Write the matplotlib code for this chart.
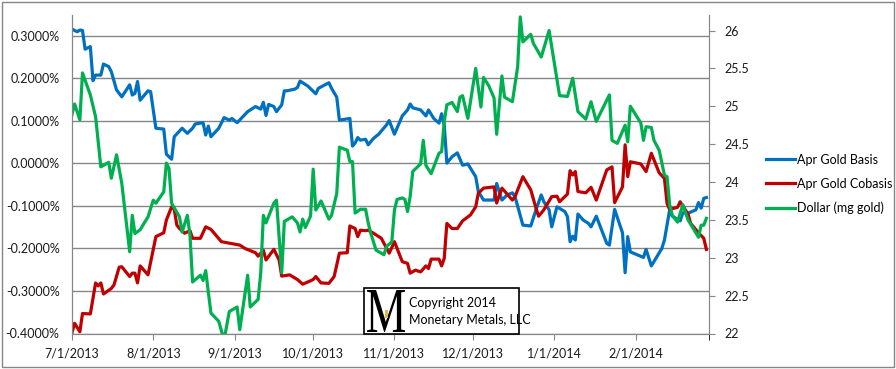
import matplotlib
matplotlib.use("Agg")
import matplotlib.pyplot as plt
from matplotlib.patches import Rectangle, PathPatch
from matplotlib.textpath import TextPath
from matplotlib.font_manager import FontProperties
from matplotlib.transforms import Affine2D
import pandas as pd

plt.rcParams["font.family"] = ["Lato", "DejaVu Sans"]

start = pd.Timestamp("2013-07-01")

# days since 7/1/2013, values in percent
basis_days = [0, 2, 3, 4, 5, 7, 8, 9, 11, 12, 14, 15, 17, 19, 22, 23, 24, 25, 26, 29,
              30, 32, 35, 36, 38, 39, 42, 44, 46, 47, 50, 51, 52, 53, 56, 58, 60, 61, 63, 67,
              70, 72, 73, 74, 75, 77, 78, 80, 81, 82, 85, 86, 87, 90, 93, 94, 98, 99, 101, 102,
              106, 107, 108, 109, 110, 112, 113, 115, 117, 120, 121, 123, 126, 128, 129, 130, 133, 135, 136, 138,
              140, 141, 142, 143, 145, 147, 149, 151, 154, 155, 157, 161, 162, 164, 166, 168, 169, 172, 175, 177,
              179, 180, 182, 183, 185, 188, 189, 190, 191, 192, 193, 195, 197, 198, 200, 204, 205, 207, 210, 211,
              212, 213, 218, 219, 221, 225, 226, 228, 229, 232, 233, 235, 238, 239, 240, 241, 242]
basis = [0.316, 0.310, 0.314, 0.313, 0.269, 0.275, 0.195, 0.208, 0.208, 0.234, 0.228, 0.216, 0.173, 0.157, 0.185, 0.161, 0.165, 0.193, 0.149, 0.171,
         0.169, 0.083, 0.081, 0.022, 0.010, 0.063, 0.083, 0.071, 0.083, 0.093, 0.096, 0.067, 0.088, 0.063, 0.083, 0.108, 0.102, 0.106, 0.096, 0.122,
         0.134, 0.128, 0.144, 0.113, 0.139, 0.134, 0.122, 0.138, 0.171, 0.171, 0.175, 0.179, 0.194, 0.182, 0.164, 0.177, 0.190, 0.177, 0.156, 0.102,
         0.106, 0.041, 0.048, 0.061, 0.055, 0.057, 0.044, 0.059, 0.069, 0.091, 0.101, 0.069, 0.112, 0.126, 0.140, 0.131, 0.126, 0.112, 0.126, 0.106,
         0.095, 0.117, 0.091, 0.001, 0.016, 0.025, -0.004, -0.001, -0.031, -0.066, -0.086, -0.086, -0.047, -0.086, -0.074, -0.069, -0.078, -0.145, -0.147, -0.109,
         -0.074, -0.090, -0.109, -0.149, -0.102, -0.113, -0.125, -0.184, -0.171, -0.180, -0.119, -0.133, -0.141, -0.149, -0.124, -0.188, -0.192, -0.108, -0.163, -0.257,
         -0.172, -0.208, -0.221, -0.202, -0.241, -0.200, -0.180, -0.109, -0.124, -0.135, -0.116, -0.117, -0.109, -0.092, -0.105, -0.082, -0.080]

cobasis_days = [0, 1, 3, 4, 7, 9, 10, 11, 12, 15, 16, 18, 19, 22, 23, 24, 25, 26, 29, 32,
                34, 35, 36, 38, 39, 40, 41, 43, 45, 46, 49, 51, 53, 57, 64, 66, 70, 71, 73, 74,
                77, 79, 80, 83, 86, 88, 91, 92, 93, 95, 98, 100, 102, 105, 106, 108, 109, 110, 112, 113,
                115, 118, 121, 123, 126, 128, 129, 131, 133, 135, 136, 137, 140, 141, 142, 143, 145, 147, 149, 152,
                154, 155, 157, 161, 162, 164, 168, 169, 172, 175, 177, 178, 180, 183, 185, 186, 189, 190, 191, 192,
                193, 196, 198, 200, 204, 206, 207, 210, 211, 212, 213, 217, 219, 221, 224, 226, 227, 228, 231, 232,
                235, 236, 239, 241, 242]
cobasis = [-0.398, -0.376, -0.396, -0.353, -0.354, -0.281, -0.288, -0.281, -0.307, -0.294, -0.286, -0.244, -0.243, -0.266, -0.258, -0.258, -0.281, -0.241, -0.262, -0.172,
           -0.166, -0.163, -0.133, -0.102, -0.108, -0.145, -0.153, -0.164, -0.158, -0.176, -0.176, -0.149, -0.155, -0.184, -0.192, -0.200, -0.210, -0.218, -0.204, -0.227,
           -0.202, -0.227, -0.265, -0.262, -0.273, -0.284, -0.276, -0.273, -0.266, -0.281, -0.282, -0.266, -0.211, -0.210, -0.147, -0.153, -0.172, -0.157, -0.158, -0.157,
           -0.164, -0.176, -0.211, -0.184, -0.231, -0.235, -0.258, -0.251, -0.255, -0.241, -0.247, -0.225, -0.225, -0.241, -0.223, -0.141, -0.153, -0.153, -0.135, -0.121,
           -0.102, -0.070, -0.058, -0.055, -0.093, -0.058, -0.086, -0.078, -0.031, -0.062, -0.105, -0.124, -0.109, -0.078, -0.077, -0.090, -0.072, -0.017, -0.027, -0.019,
           -0.066, -0.069, -0.056, -0.086, -0.015, -0.008, -0.092, -0.055, 0.044, -0.031, 0.004, -0.001, -0.019, 0.024, -0.022, -0.035, -0.094, -0.108, -0.103, -0.090,
           -0.119, -0.141, -0.163, -0.176, -0.202]

dollar_days = [0, 1, 3, 4, 7, 9, 11, 14, 15, 17, 19, 22, 23, 24, 26, 29, 31, 32, 35, 36,
               37, 38, 41, 42, 44, 45, 46, 49, 50, 51, 53, 56, 58, 60, 63, 64, 67, 68, 71, 72,
               73, 74, 77, 78, 80, 81, 84, 86, 87, 88, 89, 91, 92, 93, 95, 98, 99, 101, 102, 105,
               106, 107, 108, 110, 112, 113, 114, 116, 119, 120, 122, 123, 124, 126, 127, 128, 129, 130, 133, 134,
               135, 137, 140, 141, 142, 143, 145, 147, 148, 149, 151, 154, 156, 157, 159, 161, 162, 164, 165, 168,
               170, 171, 172, 175, 176, 179, 182, 186, 189, 191, 193, 196, 198, 200, 205, 206, 208, 211, 212, 213,
               217, 218, 219, 221, 222, 224, 226, 227, 228, 229, 231, 233, 235, 239, 240, 241, 242]
dollar = [24.89, 25.03, 24.82, 25.44, 25.15, 24.86, 24.20, 24.26, 24.05, 24.36, 23.98, 23.08, 23.56, 23.32, 23.37, 23.54, 23.76, 23.72, 23.87, 24.25,
          24.18, 23.72, 23.54, 23.34, 23.56, 23.30, 22.68, 22.77, 22.70, 22.83, 22.27, 22.16, 21.91, 22.29, 22.35, 22.05, 22.77, 22.35, 22.45, 22.80,
          23.56, 23.46, 23.72, 23.76, 22.80, 23.48, 23.54, 23.46, 23.34, 23.51, 23.40, 23.55, 24.17, 23.63, 23.75, 23.51, 23.56, 23.85, 24.46, 24.42,
          24.27, 24.27, 23.59, 23.64, 23.64, 23.46, 23.32, 23.10, 23.04, 23.15, 23.21, 23.63, 23.77, 23.79, 23.77, 23.61, 23.81, 24.14, 24.24, 24.55,
          24.22, 24.11, 24.38, 24.40, 24.80, 25.02, 25.05, 24.93, 25.12, 25.14, 24.84, 25.50, 24.99, 25.38, 25.27, 25.11, 24.63, 25.40, 25.12, 25.06,
          25.52, 26.18, 25.85, 25.95, 25.83, 25.65, 26.00, 25.14, 25.13, 25.37, 24.93, 24.83, 25.06, 24.80, 25.15, 24.55, 24.51, 24.75, 24.53, 25.00,
          24.78, 24.55, 24.73, 24.72, 24.55, 24.42, 24.09, 24.07, 23.70, 23.56, 23.47, 23.70, 23.50, 23.27, 23.43, 23.43, 23.52]

left_ticks = [-0.4, -0.3, -0.2, -0.1, 0.0, 0.1, 0.2, 0.3]
right_ticks = [22, 22.5, 23, 23.5, 24, 24.5, 25, 25.5, 26]
labels = ["Apr Gold Basis", "Apr Gold Cobasis", "Dollar (mg gold)"]

basis_dates = start + pd.to_timedelta(basis_days, unit="D")
cobasis_dates = start + pd.to_timedelta(cobasis_days, unit="D")
dollar_dates = start + pd.to_timedelta(dollar_days, unit="D")

grey = "#868686"
fig = plt.figure(figsize=(8.96, 3.69), dpi=100)
ax = fig.add_axes([72 / 896, 1 - 333.5 / 369, 637 / 896, 318.5 / 369])
ax2 = ax.twinx()

l1, = ax.plot(basis_dates, basis, color="#0070C0", lw=2.3, solid_joinstyle="round")
l2, = ax.plot(cobasis_dates, cobasis, color="#C00000", lw=2.3, solid_joinstyle="round")
l3, = ax2.plot(dollar_dates, dollar, color="#00B050", lw=2.3, solid_joinstyle="round")

ax.set_ylim(-0.4, 0.3494)
ax.set_yticks(left_ticks)
ax.set_yticklabels([f"{v:.4f}%" for v in left_ticks])
ax.yaxis.grid(True, color=grey, lw=1)
ax.set_axisbelow(True)

ax2.set_ylim(22, 26.205)
ax2.set_yticks(right_ticks)
ax2.set_yticklabels([f"{v:g}" for v in right_ticks])

ax.set_xlim(start, pd.Timestamp("2014-03-01"))
months = pd.date_range("2013-07-01", "2014-02-01", freq="MS")
ax.set_xticks(months)
ax.set_xticklabels([f"{d.month}/{d.day}/{d.year}" for d in months])
ax.set_xticks([pd.Timestamp("2014-03-01")], minor=True)

for a in (ax, ax2):
    for s in a.spines.values():
        s.set_color(grey)
    a.spines["top"].set_visible(False)
    a.tick_params(colors=grey, labelcolor="#1a1a1a", labelsize=9)
ax.tick_params(axis="y", length=0, pad=9)
ax.tick_params(axis="x", which="both", length=4, pad=6)
ax2.tick_params(axis="y", length=4, pad=7)

fig.legend([l1, l2, l3], labels, loc="center left", bbox_to_anchor=(760 / 896, 1 - 184 / 369),
           frameon=False, fontsize=9, handlelength=2.3, handletextpad=0.15,
           labelspacing=0.95, borderpad=0)

# copyright logo box
fig.add_artist(Rectangle((364 / 896, 1 - 334 / 369), 155 / 896, 46 / 369,
                         transform=fig.transFigure, facecolor="white",
                         edgecolor="black", lw=1.2, zorder=5))
m_path = TextPath((0, 0), "M", size=1, prop=FontProperties(family="Liberation Serif"))
ext = m_path.get_extents()
sx = 38 / ext.width
sy = 42 / ext.height
m_tr = Affine2D().translate(-ext.x0, -ext.y0).scale(sx, sy).translate(367, 369 - 332)
fig.add_artist(PathPatch(m_path, transform=m_tr, facecolor="black", edgecolor="none", zorder=6))
fig.add_artist(Rectangle((384.5 / 896, 1 - 318 / 369), 3 / 896, 8 / 369,
                         transform=fig.transFigure, facecolor="#E8B34A",
                         edgecolor="none", zorder=7))
fig.text(409 / 896, 1 - 303 / 369, "Copyright 2014", fontsize=9, va="center", zorder=6)
fig.text(409 / 896, 1 - 320 / 369, "Monetary Metals, LLC", fontsize=9, va="center", zorder=6)

# outer frame
fig.add_artist(Rectangle((1.5 / 896, 2.5 / 369), 892 / 896, 365 / 369,
                         transform=fig.transFigure, facecolor="none",
                         edgecolor=grey, lw=1, zorder=10))

fig.savefig("out.png", dpi=100)
